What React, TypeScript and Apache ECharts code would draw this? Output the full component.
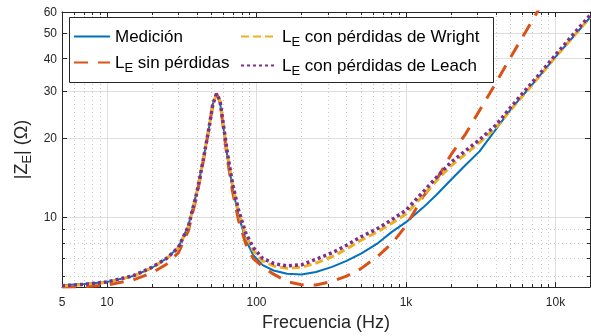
import React, { useEffect, useRef } from 'react';
import * as echarts from 'echarts';

// Frequency points (Hz) shared by every curve
const freqHz = [
  5, 7, 10, 15, 20, 25, 30, 35, 40,
  44, 48, 51, 54, 57, 60, 64, 69, 76,
  85, 95, 110, 130, 160, 200, 250, 320, 400,
  500, 650, 800, 1000, 1300, 1600, 2000, 2500, 3100,
  4000, 5000, 6300, 8000, 10000, 12500, 17000,
];

// |Z_E| in ohms
const medicion = [
  5.54, 5.6, 5.7, 6.0, 6.45, 7.0, 7.7, 9.3, 12.6,
  16.5, 21.7, 26.8, 29.5, 27.4, 22.0, 16.8, 13.0, 10.1,
  8.2, 7.2, 6.6, 6.3, 6.12, 6.08, 6.22, 6.5, 6.85,
  7.3, 8.0, 8.8, 9.6, 10.9, 12.2, 13.9, 15.8, 17.8,
  21.6, 25.6, 29.8, 34.9, 40.6, 46.8, 57.2,
];

const sinPerdidas = [
  5.44, 5.47, 5.55, 5.8, 6.17, 6.65, 7.35, 8.9, 12.2,
  16.3, 21.6, 26.8, 29.5, 27.4, 21.8, 16.5, 12.6, 9.7,
  7.9, 7.0, 6.5, 6.1, 5.72, 5.56, 5.55, 5.72, 6.0,
  6.4, 7.15, 7.95, 9.3, 12.0, 13.9, 17.3, 20.7, 25.4,
  32.4, 40.4, 50.4, 63.5, null, null, null,
];

const wright = [
  5.5, 5.57, 5.68, 6.0, 6.45, 6.98, 7.65, 9.2, 12.5,
  16.5, 21.7, 26.8, 29.4, 27.6, 22.3, 17.2, 13.3, 10.4,
  8.5, 7.5, 6.85, 6.55, 6.42, 6.48, 6.72, 7.1, 7.6,
  8.2, 8.85, 9.5, 10.3, 12.1, 13.8, 15.7, 17.4, 19.2,
  21.9, 25.5, 29.7, 34.8, 40.5, 46.8, 57.2,
];

const leach = [
  5.52, 5.58, 5.7, 6.02, 6.48, 7.0, 7.7, 9.25, 12.5,
  16.5, 21.7, 26.8, 29.4, 27.7, 22.5, 17.4, 13.5, 10.6,
  8.7, 7.7, 7.0, 6.7, 6.55, 6.62, 6.95, 7.35, 7.85,
  8.45, 9.1, 9.8, 10.65, 12.5, 14.2, 16.2, 17.9, 19.7,
  22.4, 26.1, 30.4, 35.5, 41.3, 47.8, 58.3,
];

const seriesNames = [
  'Medición',
  'L_E sin pérdidas',
  'L_E con pérdidas de Wright',
  'L_E con pérdidas de Leach',
];

// Axis ticks
const xMajorTicks = [5, 10, 100, 1000, 10000];
const xTickLabels = ['5', '10', '100', '1k', '10k'];
const xMinorTicks = [
  6, 7, 8, 9,
  20, 30, 40, 50, 60, 70, 80, 90,
  200, 300, 400, 500, 600, 700, 800, 900,
  2000, 3000, 4000, 5000, 6000, 7000, 8000, 9000,
];
const yMajorTicks = [10, 20, 30, 40, 50, 60];
const yTickLabels = ['10', '20', '30', '40', '50', '60'];
const yMinorTicks = [6, 7, 8, 9];

const X_MIN = 5;
const X_MAX = 17000;
const Y_MIN = 5.45;
const Y_MAX = 60;

const INK = '#262626';
const FONT = '"Liberation Sans", Arial, Helvetica, sans-serif';

function labelFor(v: number, ticks: number[], labels: string[]) {
  for (let i = 0; i < ticks.length; i++) {
    if (Math.abs(Math.log10(v) - Math.log10(ticks[i])) < 1e-6) return labels[i];
  }
  return '';
}

function legendLabel(name: string) {
  if (name.startsWith('L_E')) return 'L{sub|E}' + name.slice(3);
  return name;
}

function pairs(values: (number | null)[]) {
  return freqHz.map((f, i) => [f, values[i]]);
}

export default function App() {
  const ref = useRef<HTMLDivElement>(null);

  useEffect(() => {
    if (!ref.current) return;
    const chart = echarts.init(ref.current, undefined, { renderer: 'svg' });

    const logX = (extra: any) => ({
      type: 'log',
      logBase: 10,
      min: X_MIN,
      max: X_MAX,
      gridIndex: 0,
      splitLine: { show: false },
      axisLabel: { show: false },
      axisLine: { show: false },
      ...extra,
    });
    const logY = (extra: any) => ({
      type: 'log',
      logBase: 10,
      min: Y_MIN,
      max: Y_MAX,
      gridIndex: 0,
      splitLine: { show: false },
      axisLabel: { show: false },
      axisLine: { show: false },
      ...extra,
    });

    const legendText = {
      fontFamily: FONT,
      fontSize: 17,
      color: '#000',
      rich: {
        sub: { fontSize: 13, padding: [10, 0, 0, 0] },
      },
    };

    const legendCommon = {
      orient: 'vertical',
      top: 28,
      itemWidth: 36,
      itemHeight: 14,
      itemGap: 9,
      padding: 0,
      selectedMode: false,
      formatter: legendLabel,
      textStyle: legendText,
      itemStyle: { opacity: 0 },
      z: 5,
    };

    const option: any = {
      animation: false,
      textStyle: { fontFamily: FONT },
      grid: { left: 62, right: 1, top: 12, bottom: 44, containLabel: false },
      graphic: [
        {
          type: 'rect',
          z: 3,
          shape: { x: 69.5, y: 17.5, width: 424, height: 65 },
          style: { fill: '#fff', stroke: INK, lineWidth: 1 },
        },
      ],
      legend: [
        { ...legendCommon, data: [seriesNames[0], seriesNames[1]], left: 73 },
        { ...legendCommon, data: [seriesNames[2], seriesNames[3]], left: 240 },
      ],
      xAxis: [
        logX({
          position: 'bottom',
          axisLine: { show: true, onZero: false, lineStyle: { color: INK, width: 1 } },
          axisTick: {
            show: true, inside: true, length: 5, customValues: xMajorTicks,
            lineStyle: { color: INK },
          },
          axisLabel: {
            show: true, customValues: xMajorTicks, fontSize: 12, color: INK, margin: 9,
            formatter: (v: number) => labelFor(v, xMajorTicks, xTickLabels),
          },
          splitLine: { show: true, lineStyle: { color: '#dedede', width: 1 } },
          name: 'Frecuencia (Hz)',
          nameLocation: 'middle',
          nameGap: 25,
          nameTextStyle: { fontSize: 18, color: INK, fontFamily: FONT },
        }),
        logX({
          position: 'bottom',
          axisTick: {
            show: true, inside: true, length: 3, customValues: xMinorTicks,
            lineStyle: { color: INK },
          },
          splitLine: { show: true, lineStyle: { color: '#c8c8c8', width: 1, type: [1, 3] } },
        }),
        logX({
          position: 'top',
          axisLine: { show: true, onZero: false, lineStyle: { color: INK, width: 1 } },
          axisTick: {
            show: true, inside: true, length: 5, customValues: xMajorTicks,
            lineStyle: { color: INK },
          },
        }),
        logX({
          position: 'top',
          axisTick: {
            show: true, inside: true, length: 3, customValues: xMinorTicks,
            lineStyle: { color: INK },
          },
        }),
      ],
      yAxis: [
        logY({
          position: 'left',
          axisLine: { show: true, onZero: false, lineStyle: { color: INK, width: 1 } },
          axisTick: {
            show: true, inside: true, length: 5, customValues: yMajorTicks,
            lineStyle: { color: INK },
          },
          axisLabel: {
            show: true, customValues: yMajorTicks, fontSize: 12, color: INK, margin: 5,
            formatter: (v: number) => labelFor(v, yMajorTicks, yTickLabels),
          },
          splitLine: { show: true, lineStyle: { color: '#dedede', width: 1 } },
          name: '|Z{sub|E}| (Ω)',
          nameLocation: 'middle',
          nameGap: 29,
          nameTextStyle: {
            fontSize: 18, color: INK, fontFamily: FONT,
            rich: { sub: { fontSize: 13, padding: [10, 0, 0, 0] } },
          },
        }),
        logY({
          position: 'left',
          axisTick: {
            show: true, inside: true, length: 3, customValues: yMinorTicks,
            lineStyle: { color: INK },
          },
          splitLine: { show: true, lineStyle: { color: '#c8c8c8', width: 1, type: [1, 3] } },
        }),
        logY({
          position: 'right',
          axisLine: { show: true, onZero: false, lineStyle: { color: INK, width: 1 } },
          axisTick: {
            show: true, inside: true, length: 5, customValues: yMajorTicks,
            lineStyle: { color: INK },
          },
        }),
        logY({
          position: 'right',
          axisTick: {
            show: true, inside: true, length: 3, customValues: yMinorTicks,
            lineStyle: { color: INK },
          },
        }),
      ],
      series: [
        {
          name: seriesNames[0],
          type: 'line',
          data: pairs(medicion),
          symbol: 'none',
          clip: true,
          lineStyle: { color: '#0072BD', width: 2 },
          itemStyle: { color: '#0072BD' },
        },
        {
          name: seriesNames[1],
          type: 'line',
          data: pairs(sinPerdidas),
          symbol: 'none',
          clip: true,
          lineStyle: { color: '#D95319', width: 3, type: [14, 10] },
          itemStyle: { color: '#D95319' },
        },
        {
          name: seriesNames[2],
          type: 'line',
          data: pairs(wright),
          symbol: 'none',
          clip: true,
          lineStyle: { color: '#EDB120', width: 3, type: [8, 4] },
          itemStyle: { color: '#EDB120' },
        },
        {
          name: seriesNames[3],
          type: 'line',
          data: pairs(leach),
          symbol: 'none',
          clip: true,
          lineStyle: { color: '#7E2F8E', width: 3.5, type: [3, 3] },
          itemStyle: { color: '#7E2F8E' },
        },
      ],
    };

    chart.setOption(option);
    return () => chart.dispose();
  }, []);

  return (
    <div
      ref={ref}
      style={{ position: 'fixed', left: 0, top: 0, width: 591, height: 336 }}
    />
  );
}
